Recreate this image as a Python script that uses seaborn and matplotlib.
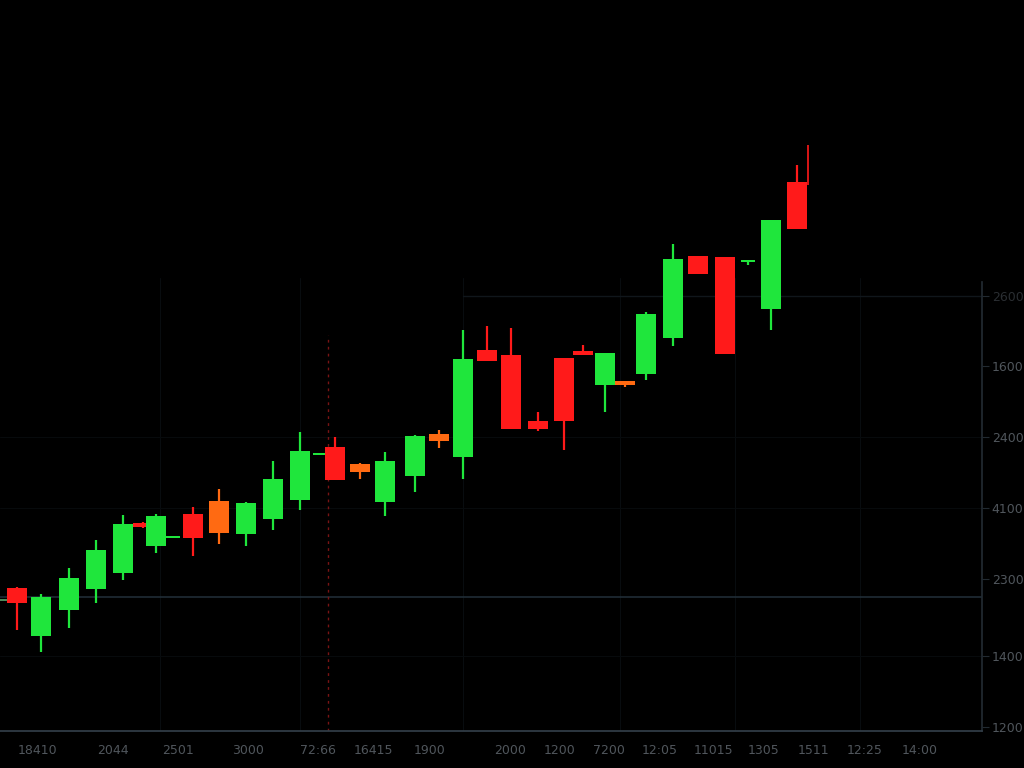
import numpy as np
import pandas as pd
import matplotlib
matplotlib.use("Agg")
import matplotlib.pyplot as plt
import seaborn as sns

# ── data ──────────────────────────────────────────────────────────────────────
t     = [3, 17, 41, 69, 96, 123, 143, 156, 173, 193, 219, 246, 273, 300, 320, 335, 360,
         385, 415, 439, 463, 487, 511, 538, 564, 583, 605, 625, 646, 673, 698, 725, 748,
         771, 797]
opens = [167, 180, 132, 158, 179, 195, 245, 222, 230, 254, 267, 234, 249, 268, 313, 321, 304,
         266, 292, 334, 311, 418, 413, 347, 410, 417, 383, 387, 394, 430, 512, 511, 506,
         459, 586]
close = [168, 165, 171, 190, 218, 244, 241, 252, 232, 230, 235, 265, 289, 317, 315, 288, 296,
         307, 332, 327, 409, 407, 339, 339, 347, 413, 415, 383, 454, 509, 494, 414, 508,
         548, 539]
highs = [168, 181, 174, 200, 228, 253, 246, 254, 232, 261, 279, 266, 307, 336, 315, 331, 305,
         316, 333, 338, 438, 442, 440, 356, 410, 423, 415, 387, 456, 524, 512, 511, 508,
         548, 603]
lows  = [167, 138, 116, 140, 165, 188, 240, 215, 230, 212, 224, 222, 238, 258, 313, 288, 289,
         252, 276, 320, 289, 407, 339, 337, 318, 413, 356, 381, 388, 422, 494, 414, 503,
         438, 539]
kind  = ["flat", "down", "up", "up", "up", "up", "down", "up", "up", "down", "warm", "up", "up",
         "up", "up", "down", "warm", "up", "up", "warm", "up", "down", "down", "down", "down",
         "down", "up", "warm", "up", "up", "down", "down", "up", "up", "down"]

# lone spike next to the last candle
spike_t, spike_lo, spike_hi = [808], [583], [623]

x_ticks  = [37, 113, 178, 248, 318, 373, 430, 510, 560, 609, 660, 713, 764, 813, 865, 920]
x_labels = ["18410", "2044", "2501", "3000", "72:66", "16415", "1900", "2000", "1200",
            "7200", "12:05", "11015", "1305", "1511", "12:25", "14:00"]
y_ticks  = [472, 402, 331, 260, 189, 112, 41]
y_labels = ["2600", "1600", "2400", "4100", "2300", "1400", "1200"]

df = pd.DataFrame({"t": t, "open": opens, "close": close, "high": highs,
                   "low": lows, "kind": kind})

palette = {"up": "#1fe63c", "down": "#ff1a1a", "warm": "#ff6a12", "flat": "#4c8a5a"}

# ── plot ──────────────────────────────────────────────────────────────────────
sns.set_theme(style="dark", rc={
    "figure.facecolor": "black", "axes.facecolor": "black",
    "axes.edgecolor": "#2e3840", "text.color": "#50565c",
    "xtick.color": "#50565c", "ytick.color": "#50565c",
})

fig = plt.figure(figsize=(10.24, 7.68), dpi=100)
ax = fig.add_axes([0, 37 / 768, 982 / 1024, 731 / 768])
ax.set_xlim(0, 982)
ax.set_ylim(37, 768)

# faint grid
for gx in [160, 300, 463, 620, 735, 860]:
    ax.axvline(gx, ymax=0.62, color="#080c0f", lw=0.8, zorder=0)
for gy in [112, 260, 331]:
    ax.axhline(gy, color="#070a0c", lw=0.8, zorder=0)
ax.axhline(171, color="#22303a", lw=1.1, zorder=1)
ax.plot([463, 982], [472, 472], color="#10161b", lw=1.0, zorder=1)
ax.axvline(328, ymax=(433 - 37) / 731, color="#7a1414", lw=1.0, ls=(0, (2, 3)), zorder=1)

df["body_lo"] = df[["open", "close"]].min(axis=1)
df["body_h"] = (df["open"] - df["close"]).abs().clip(lower=2)
df["width"] = np.where(df["body_h"] <= 3, 14, 20)
df["color"] = df["kind"].map(palette)

ax.vlines(df["t"], df["low"], df["high"], colors=df["color"], lw=1.6, zorder=2)
ax.bar(df["t"], df["body_h"], bottom=df["body_lo"], width=df["width"],
       color=df["color"], edgecolor="none", zorder=3)
ax.vlines(spike_t, spike_lo, spike_hi, colors=palette["down"], lw=1.2, zorder=2)

# axes / ticks
sns.despine(ax=ax, top=True, left=True, right=False, bottom=False)
ax.spines["right"].set_bounds(37, 486)
ax.spines["bottom"].set_color("#323e48")
ax.spines["right"].set_color("#222a31")
ax.grid(False)
ax.set_xticks(x_ticks)
ax.set_xticklabels(x_labels, fontsize=9)
ax.yaxis.tick_right()
ax.set_yticks(y_ticks)
ax.set_yticklabels(y_labels, fontsize=9)
ax.tick_params(axis="x", length=4, width=0.8, color="#323e48", pad=5)
ax.tick_params(axis="y", length=5, width=0.8, color="#222a31", pad=2)
ax.get_yticklabels()[0].set_color("#2a2e32")

fig.savefig("out.png", dpi=100, facecolor="black")
